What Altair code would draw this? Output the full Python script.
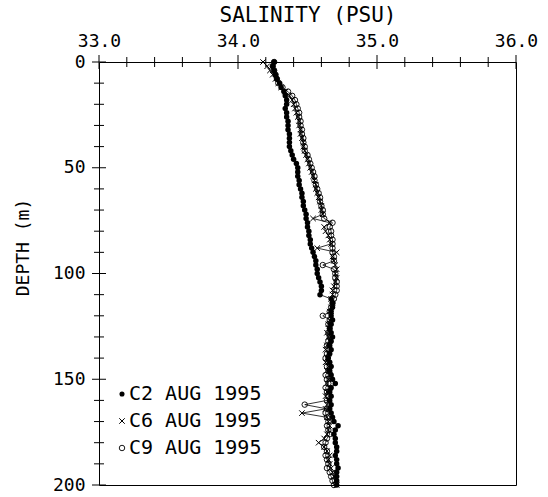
import altair as alt
import pandas as pd

depth = [0, 2, 4, 6, 8, 10, 12, 14, 16, 18, 20, 22, 24, 26, 28, 30, 32, 34, 36, 38,
         40, 42, 44, 46, 48, 50, 52, 54, 56, 58, 60, 62, 64, 66, 68, 70, 72, 74, 76, 78,
         80, 82, 84, 86, 88, 90, 92, 94, 96, 98, 100, 102, 104, 106, 108, 110, 112, 114, 116, 118,
         120, 122, 124, 126, 128, 130, 132, 134, 136, 138, 140, 142, 144, 146, 148, 150, 152, 154, 156, 158,
         160, 162, 164, 166, 168, 170, 172, 174, 176, 178, 180, 182, 184, 186, 188, 190, 192, 194, 196, 198, 200]

c2 = [34.26, 34.25, 34.26, 34.27, 34.28, 34.30, 34.31, 34.33, 34.34, 34.35,
      34.35, 34.34, 34.35, 34.35, 34.36, 34.36, 34.36, 34.37, 34.37, 34.37,
      34.37, 34.38, 34.39, 34.40, 34.42, 34.43, 34.43, 34.43, 34.44, 34.44,
      34.45, 34.46, 34.46, 34.47, 34.47, 34.48, 34.49, 34.49, 34.50, 34.50,
      34.51, 34.51, 34.52, 34.52, 34.53, 34.54, 34.55, 34.56, 34.56, 34.57,
      34.57, 34.58, 34.59, 34.60, 34.60, 34.59, 34.67, 34.68, 34.68, 34.67,
      34.67, 34.68, 34.67, 34.66, 34.67, 34.68, 34.67, 34.66, 34.67, 34.66,
      34.65, 34.66, 34.67, 34.66, 34.67, 34.68, 34.70, 34.67, 34.66, 34.67,
      34.66, 34.67, 34.66, 34.67, 34.68, 34.69, 34.72, 34.70, 34.69, 34.70,
      34.70, 34.71, 34.71, 34.70, 34.71, 34.71, 34.72, 34.71, 34.71, 34.71,
      34.71]

c6 = [34.18, 34.21, 34.23, 34.25, 34.27, 34.29, 34.31, 34.34, 34.37, 34.39,
      34.40, 34.41, 34.42, 34.43, 34.44, 34.44, 34.45, 34.45, 34.46, 34.47,
      34.47, 34.48, 34.49, 34.50, 34.51, 34.52, 34.53, 34.54, 34.55, 34.56,
      34.56, 34.57, 34.58, 34.59, 34.60, 34.60, 34.61, 34.54, 34.66, 34.62,
      34.63, 34.65, 34.66, 34.67, 34.57, 34.71, 34.68, 34.69, 34.70, 34.71,
      34.70, 34.71, 34.70, 34.69, 34.68, 34.68, 34.67, 34.68, 34.67, 34.66,
      34.67, 34.66, 34.65, 34.66, 34.64, 34.65, 34.66, 34.64, 34.63, 34.65,
      34.64, 34.63, 34.65, 34.64, 34.66, 34.65, 34.64, 34.66, 34.64, 34.63,
      34.65, 34.64, 34.63, 34.46, 34.64, 34.65, 34.66, 34.65, 34.64, 34.62,
      34.58, 34.62, 34.64, 34.66, 34.65, 34.66, 34.67, 34.68, 34.69, 34.70,
      34.71]

c9 = [34.26, 34.25, 34.26, 34.27, 34.28, 34.29, 34.32, 34.36, 34.39, 34.41,
      34.42, 34.43, 34.44, 34.44, 34.45, 34.45, 34.46, 34.46, 34.47, 34.47,
      34.48, 34.48, 34.50, 34.51, 34.52, 34.53, 34.54, 34.55, 34.55, 34.56,
      34.57, 34.58, 34.59, 34.59, 34.60, 34.61, 34.61, 34.62, 34.68, 34.66,
      34.67, 34.67, 34.68, 34.68, 34.68, 34.68, 34.69, 34.69, 34.61, 34.69,
      34.70, 34.70, 34.71, 34.71, 34.71, 34.70, 34.69, 34.68, 34.67, 34.66,
      34.61, 34.66, 34.65, 34.66, 34.65, 34.66, 34.65, 34.64, 34.66, 34.64,
      34.63, 34.65, 34.64, 34.65, 34.63, 34.64, 34.65, 34.63, 34.64, 34.65,
      34.64, 34.48, 34.64, 34.63, 34.64, 34.65, 34.64, 34.65, 34.66, 34.64,
      34.63, 34.62, 34.64, 34.63, 34.64, 34.65, 34.64, 34.66, 34.67, 34.68,
      34.69]

series_names = ["C2", "C6", "C9"]
legend_labels = ["C2 AUG 1995", "C6 AUG 1995", "C9 AUG 1995"]

x_major = [33.0, 34.0, 35.0, 36.0]
x_minor = [33.2, 33.4, 33.6, 33.8, 34.2, 34.4, 34.6, 34.8, 35.2, 35.4, 35.6, 35.8]
y_major = [0, 50, 100, 150, 200]
y_minor = [10, 20, 30, 40, 60, 70, 80, 90, 110, 120, 130, 140, 160, 170, 180, 190]

FONT = "DejaVu Sans Mono"

rows = []
for name, vals in zip(series_names, [c2, c6, c9]):
    for d, s in zip(depth, vals):
        rows.append({"series": name, "depth": d, "sal": s})
df = pd.DataFrame(rows)

xscale = alt.Scale(domain=[33, 36], nice=False, zero=False)
yscale = alt.Scale(domain=[0, 200], nice=False, zero=False, reverse=True)

xenc = alt.X("sal:Q", scale=xscale, axis=alt.Axis(
    orient="top", values=x_major, format=".1f", ticks=False, domain=False, grid=False,
    title="SALINITY (PSU)", titleFont=FONT, titleFontSize=21, titleFontWeight="normal",
    titleColor="black", titleY=-47, titleBaseline="middle",
    labelFont=FONT, labelFontSize=18, labelColor="black", labelPadding=12,
    labelFlush=False, labelOverlap=False, labelBound=False))
yenc = alt.Y("depth:Q", scale=yscale, axis=alt.Axis(
    values=y_major, format="d", ticks=False, domain=False, grid=False,
    title="DEPTH (m)", titleFont=FONT, titleFontSize=18, titleFontWeight="normal",
    titleColor="black", titleX=-76, titleY=185, titleAngle=270, titleBaseline="middle",
    titleAlign="center",
    labelFont=FONT, labelFontSize=18, labelColor="black", labelPadding=14,
    labelFlush=False, labelOverlap=False, labelBound=False))

base = alt.Chart(df)

lines = base.mark_line(color="black", strokeWidth=0.8).encode(
    x=xenc, y=yenc, detail="series:N", order=alt.Order("depth:Q"))

p_c2 = base.transform_filter(alt.datum.series == "C2").mark_point(
    shape="circle", filled=True, size=30, color="black", opacity=1).encode(x=xenc, y=yenc)
p_c6 = base.transform_filter(alt.datum.series == "C6").mark_point(
    shape="M-1,-1L1,1M-1,1L1,-1", filled=False, size=30, color="black",
    strokeWidth=1, opacity=1).encode(x=xenc, y=yenc)
p_c9 = base.transform_filter(alt.datum.series == "C9").mark_point(
    shape="circle", filled=False, size=30, color="black", strokeWidth=0.9,
    opacity=1).encode(x=xenc, y=yenc)

# tick marks crossing the top and left axis lines
xt_major = alt.Chart(pd.DataFrame({"sal": x_major})).mark_rule(color="black", strokeWidth=1).encode(
    x=xenc, y=alt.value(-7), y2=alt.value(7))
xt_minor = alt.Chart(pd.DataFrame({"sal": x_minor})).mark_rule(color="black", strokeWidth=1).encode(
    x=xenc, y=alt.value(-5), y2=alt.value(5))
yt_major = alt.Chart(pd.DataFrame({"depth": y_major})).mark_rule(color="black", strokeWidth=1).encode(
    y=yenc, x=alt.value(-7), x2=alt.value(7))
yt_minor = alt.Chart(pd.DataFrame({"depth": y_minor})).mark_rule(color="black", strokeWidth=1).encode(
    y=yenc, x=alt.value(-5), x2=alt.value(5))

# legend (drawn inside the plot, bottom-left)
leg_y = [332, 359, 386]
leg_layers = []
sym_styles = [
    dict(shape="circle", filled=True, size=26, color="black"),
    dict(shape="M-1,-1L1,1M-1,1L1,-1", filled=False, size=30, color="black", strokeWidth=1),
    dict(shape="circle", filled=False, size=30, color="black", strokeWidth=0.9),
]
for lab, yy, st in zip(legend_labels, leg_y, sym_styles):
    ldf = pd.DataFrame({"label": [lab]})
    leg_layers.append(alt.Chart(ldf).mark_point(opacity=1, **st).encode(
        x=alt.value(23), y=alt.value(yy)))
    leg_layers.append(alt.Chart(ldf).mark_text(
        align="left", baseline="middle", font=FONT, fontSize=20, color="black").encode(
        x=alt.value(30), y=alt.value(yy), text="label:N"))

chart = alt.layer(
    lines, p_c2, p_c6, p_c9, xt_major, xt_minor, yt_major, yt_minor, *leg_layers
).properties(
    width=417, height=423,
    autosize="none",
    padding={"left": 99, "top": 62, "right": 32, "bottom": 12},
    background="white",
).configure_view(stroke="black", strokeWidth=1)

chart.save("out.html", embed_options={"renderer": "svg", "actions": False})
